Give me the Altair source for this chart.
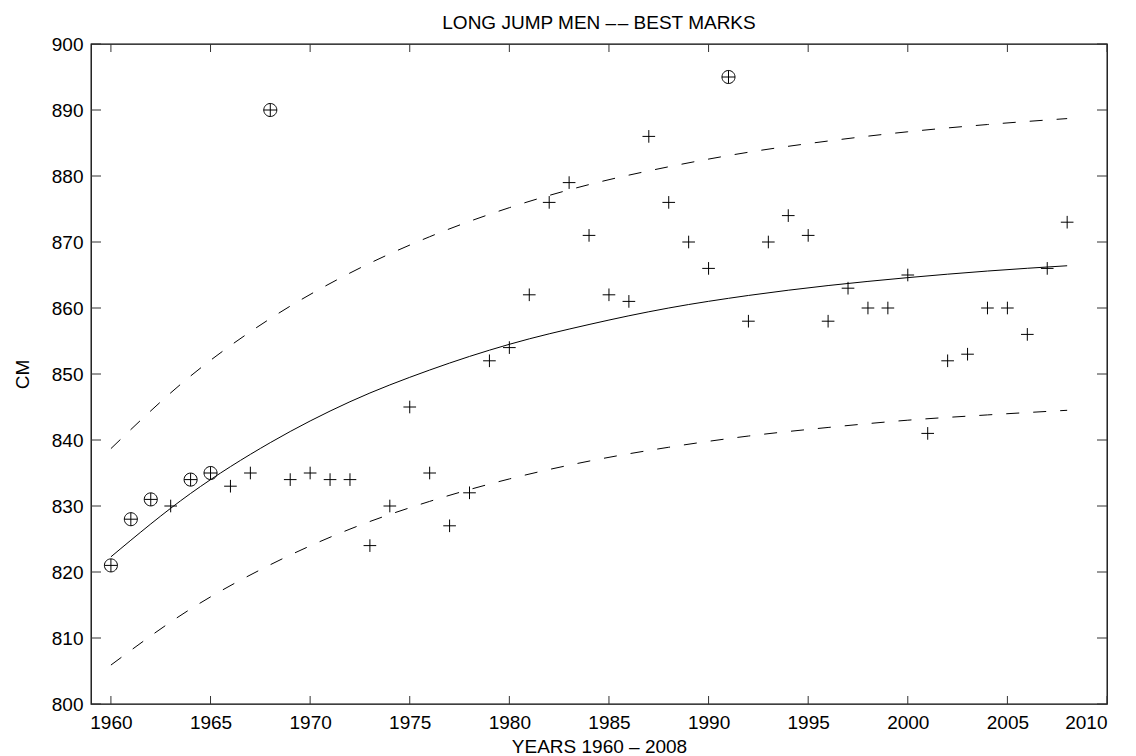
import altair as alt
import pandas as pd

# ---- data ----
years = list(range(1960, 2009))
best_marks = [821, 828, 831, 830, 834, 835, 833, 835, 890, 834,
              835, 834, 834, 824, 830, 845, 835, 827, 832, 852,
              854, 862, 876, 879, 871, 862, 861, 886, 876, 870,
              866, 895, 858, 870, 874, 871, 858, 863, 860, 860,
              865, 841, 852, 853, 860, 860, 856, 866, 873]
record_years = [1960, 1961, 1962, 1964, 1965, 1968, 1991]

curve_years = [1960, 1964, 1968, 1972, 1976, 1980, 1984, 1988, 1992, 1996, 2000, 2004, 2008]
fit_mid = [822.3, 831.9, 839.6, 845.8, 850.6, 854.5, 857.5, 860.0, 861.9, 863.4, 864.6, 865.6, 866.4]
fit_upper = [838.7, 849.7, 858.4, 865.3, 870.8, 875.2, 878.7, 881.4, 883.6, 885.3, 886.7, 887.8, 888.7]
fit_lower = [805.9, 814.4, 821.1, 826.5, 830.7, 834.1, 836.8, 838.9, 840.6, 841.9, 843.0, 843.8, 844.5]

x_ticks = [1960, 1965, 1970, 1975, 1980, 1985, 1990, 1995, 2000, 2005, 2010]
y_ticks = [800, 810, 820, 830, 840, 850, 860, 870, 880, 890, 900]

# ---- tables ----
pts = pd.DataFrame({"year": years, "cm": best_marks})
pts["rec"] = pts["year"].isin(record_years)
plus_df = pts[~pts["rec"]]
rec_df = pts[pts["rec"]]

curves = pd.DataFrame({
    "year": curve_years * 3,
    "cm": fit_mid + fit_upper + fit_lower,
    "curve": ["mid"] * len(curve_years) + ["upper"] * len(curve_years) + ["lower"] * len(curve_years),
})
mid_df = curves[curves["curve"] == "mid"]
band_df = curves[curves["curve"] != "mid"]

xt_df = pd.DataFrame({"year": x_ticks})
yt_df = pd.DataFrame({"cm": y_ticks})

W, H = 1016, 660
FONT = "Liberation Sans"
FS = 19

xs = alt.Scale(domain=[1959, 2010], nice=False, zero=False)
ys = alt.Scale(domain=[800, 900], nice=False, zero=False)

xaxis = alt.Axis(values=x_ticks, format="d", title="YEARS 1960 – 2008",
                 labelFont=FONT, labelFontSize=FS, labelColor="black",
                 domain=False, ticks=False, tickSize=0, grid=False, labelPadding=9,
                 titleFont=FONT, titleFontSize=FS, titleFontWeight="normal",
                 titleColor="black", titleY=48, titleBaseline="alphabetic")
yaxis = alt.Axis(values=y_ticks, format="d", title="CM",
                 labelFont=FONT, labelFontSize=FS, labelColor="black",
                 domain=False, ticks=False, tickSize=0, grid=False, labelPadding=8,
                 titleFont=FONT, titleFontSize=FS, titleFontWeight="normal",
                 titleColor="black", titleX=-63, titleY=H / 2,
                 titleBaseline="alphabetic", titleAlign="center", titleAngle=270)

X = alt.X("year:Q", scale=xs, axis=xaxis)
Y = alt.Y("cm:Q", scale=ys, axis=yaxis)

PLUS = "M-1,0H1M0,-1V1"
OPLUS = "M-1,0A1,1 0 1,1 1,0A1,1 0 1,1 -1,0ZM-1,0H1M0,-1V1"

plus_layer = alt.Chart(plus_df).mark_point(
    shape=PLUS, filled=False, stroke="black", strokeWidth=1, size=160, opacity=1
).encode(x=X, y=Y)

rec_layer = alt.Chart(rec_df).mark_point(
    shape=OPLUS, filled=False, stroke="black", strokeWidth=1, size=170, opacity=1
).encode(x=X, y=Y)

mid_layer = alt.Chart(mid_df).mark_line(
    color="black", strokeWidth=1, interpolate="monotone"
).encode(x=X, y=Y)

band_layer = alt.Chart(band_df).mark_line(
    color="black", strokeWidth=1, strokeDash=[13, 14], interpolate="monotone"
).encode(x=X, y=Y, detail="curve:N")

TC = "#333333"
tick_bottom = alt.Chart(xt_df).mark_rule(color=TC, strokeWidth=1).encode(
    x=X, y=alt.value(H), y2=alt.value(H - 8))
tick_top = alt.Chart(xt_df).mark_rule(color=TC, strokeWidth=1).encode(
    x=X, y=alt.value(0), y2=alt.value(8))
tick_left = alt.Chart(yt_df).mark_rule(color=TC, strokeWidth=1).encode(
    y=Y, x=alt.value(0), x2=alt.value(10))
tick_right = alt.Chart(yt_df).mark_rule(color=TC, strokeWidth=1).encode(
    y=Y, x=alt.value(W), x2=alt.value(W - 10))

chart = alt.layer(
    band_layer, mid_layer, plus_layer, rec_layer,
    tick_bottom, tick_top, tick_left, tick_right
).properties(
    width=W, height=H,
    title=alt.TitleParams("LONG JUMP MEN \u2013\u200a\u2013 BEST MARKS", font=FONT, fontSize=FS,
                          fontWeight="normal", color="black", anchor="middle",
                          offset=16, baseline="alphabetic", dy=29),
    autosize=alt.AutoSizeParams(type="none"),
    padding={"left": 91, "top": 44, "right": 29, "bottom": 52},
    background="white",
).configure_view(stroke="black", strokeWidth=1.3)

chart.save("out.html", embed_options={"renderer": "svg", "actions": False})
